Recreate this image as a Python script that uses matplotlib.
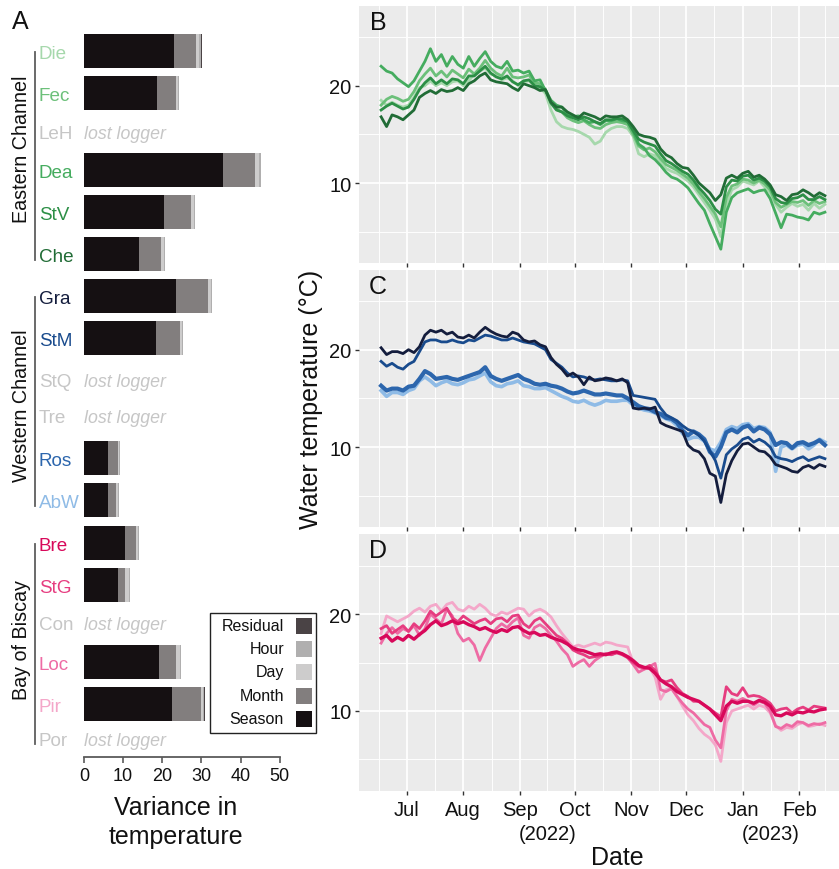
import numpy as np
import matplotlib
matplotlib.use("Agg")
import matplotlib.pyplot as plt
import matplotlib.dates as mdates
from matplotlib.lines import Line2D
from matplotlib.patches import Rectangle
import datetime as dt

plt.rcParams['font.family'] = ['Liberation Sans', 'DejaVu Sans']

# ---------------- data: panel A ----------------
sites = ["Die", "Fec", "LeH", "Dea", "StV", "Che",
         "Gra", "StM", "StQ", "Tre", "Ros", "AbW",
         "Bre", "StG", "Con", "Loc", "Pir", "Por"]
groups = ["Eastern Channel", "Western Channel", "Bay of Biscay"]
components = ["Season", "Month", "Day", "Hour", "Residual"]
nan = np.nan
season   = [23.0, 18.6, nan, 35.5, 20.5, 14.0, 23.5, 18.4, nan, nan, 6.1, 6.1, 10.5, 8.7, nan, 19.2, 22.5, nan]
month    = [5.6, 4.9, nan, 8.2, 6.9, 5.6, 8.2, 6.1, nan, nan, 2.6, 2.0, 2.8, 1.8, nan, 4.3, 7.4, nan]
day      = [0.85, 0.5, nan, 1.1, 0.75, 0.75, 0.75, 0.55, nan, nan, 0.35, 0.55, 0.55, 1.0, nan, 1.0, 0.5, nan]
hour     = [0.35, 0.25, nan, 0.45, 0.25, 0.3, 0.25, 0.25, nan, nan, 0.15, 0.25, 0.25, 0.3, nan, 0.3, 0.2, nan]
residual = [0.3, 0.05, nan, 0.05, 0.05, 0.05, 0.05, 0.05, nan, nan, 0.05, 0.05, 0.05, 0.05, nan, 0.05, 0.3, nan]

# ---------------- data: time series (every 3 days, 17 Jun 2022 - 15 Feb 2023) ----------------
dates = np.arange(np.datetime64('2022-06-17'), np.datetime64('2023-02-16'), np.timedelta64(3, 'D'))

Die = [18.5, 18.0, 18.3, 18.0, 17.8,
       18.0, 18.8, 19.8, 20.0, 20.5, 20.0, 20.3, 20.0, 20.4, 20.5,
       20.0, 20.5, 21.2, 21.5, 21.8, 21.2, 21.0, 20.6, 20.8, 20.5, 20.0,
       20.4, 20.5, 20.0, 19.8, 19.2, 17.5, 16.3, 15.8, 15.6, 15.5,
       15.3, 15.0, 14.7, 14.0, 14.3, 15.2, 15.6, 15.8, 15.8, 15.6,
       14.8, 13.0, 12.7, 13.0, 12.8, 12.2, 11.5, 11.2, 11.0, 10.6,
       10.2, 9.6, 8.8, 8.0, 7.2, 6.3, 4.5, 7.8, 9.3, 9.6,
       10.2, 10.0, 9.8, 10.2, 9.6, 9.0, 7.8, 7.0, 7.5, 7.9, 7.6,
       7.8, 7.2, 7.9, 7.4, 7.8]
Fec = [18.0, 18.6, 18.9, 18.7, 18.4,
       18.6, 19.4, 20.5, 21.2, 21.8, 21.0, 21.5, 20.9, 21.6, 21.2,
       20.8, 21.7, 21.2, 21.8, 22.6, 21.8, 21.3, 21.0, 21.8, 20.9, 20.8,
       20.9, 21.1, 20.3, 20.2, 19.6, 18.4, 17.6, 17.3, 16.7, 16.4,
       16.2, 16.4, 16.0, 15.7, 15.6, 16.0, 16.2, 16.3, 16.2, 16.0,
       15.0, 13.8, 13.4, 13.6, 13.2, 12.5, 11.9, 11.6, 11.3, 10.9,
       10.5, 9.9, 9.1, 8.4, 7.6, 6.8, 5.5, 8.5, 9.7, 9.9,
       10.4, 10.3, 10.0, 10.3, 9.9, 9.3, 8.0, 7.5, 7.8, 8.1, 8.0,
       8.2, 7.7, 8.2, 7.9, 8.1]
Dea = [22.0, 21.5, 21.3, 20.7, 20.3,
       19.9, 20.5, 21.5, 22.5, 23.8, 22.5, 23.2, 22.0, 23.0, 22.2,
       21.8, 23.0, 22.0, 22.8, 23.5, 22.5, 22.0, 21.8, 22.5, 21.5, 21.6,
       21.3, 21.5, 20.5, 20.6, 19.5, 18.5, 18.0, 17.8, 17.0, 16.8,
       16.9, 16.5, 16.2, 16.3, 16.0, 16.4, 16.4, 16.6, 16.4, 16.3,
       15.3, 14.0, 13.6, 12.8, 12.4, 11.8, 11.1, 10.6, 10.4, 10.0,
       9.5, 8.7, 7.9, 7.2, 5.8, 4.5, 3.2, 7.0, 8.5, 9.0,
       9.2, 9.4, 9.0, 9.2, 9.3, 8.4, 6.9, 5.4, 6.8, 6.7, 6.5,
       6.4, 6.2, 7.0, 6.8, 7.0]
StV = [17.5, 17.9, 18.2, 17.9, 17.6,
       17.8, 18.6, 19.6, 20.3, 20.8, 20.2, 20.6, 20.2, 20.7, 20.6,
       20.2, 21.0, 21.0, 21.5, 22.0, 21.3, 20.9, 20.7, 21.0, 20.4, 20.1,
       20.5, 20.6, 20.0, 19.9, 19.5, 18.2, 17.5, 17.3, 16.9, 16.7,
       16.5, 16.8, 16.6, 16.3, 16.1, 16.5, 16.5, 16.6, 16.6, 16.3,
       15.4, 14.5, 14.2, 14.0, 13.8, 13.0, 12.3, 12.0, 11.6, 11.2,
       10.9, 10.3, 9.5, 8.9, 8.2, 7.3, 6.8, 9.6, 10.3, 10.2,
       10.7, 10.8, 10.3, 10.5, 10.2, 9.6, 8.4, 8.0, 7.9, 8.4, 8.5,
       8.8, 8.3, 8.3, 8.6, 8.3]
Che = [16.8, 15.8, 17.0, 16.8, 16.5,
       17.0, 17.5, 18.8, 19.2, 19.5, 19.2, 19.6, 19.4, 19.5, 19.8,
       19.5, 20.2, 20.5, 21.0, 21.3, 20.6, 20.4, 20.3, 20.2, 19.8, 19.5,
       20.2, 20.0, 19.8, 19.5, 19.6, 18.3, 17.8, 17.8, 17.3, 17.0,
       16.7, 17.2, 17.0, 16.8, 16.5, 16.9, 16.8, 16.8, 16.9, 16.5,
       15.8, 15.0, 14.8, 14.7, 14.5, 13.5, 12.9, 12.6, 12.0, 11.6,
       11.5, 10.8, 10.0, 9.5, 9.0, 8.2, 8.8, 10.5, 10.8, 10.5,
       11.0, 11.2, 10.6, 10.8, 10.4, 9.8, 8.8, 8.6, 8.2, 8.8, 8.9,
       9.3, 9.0, 8.6, 9.0, 8.7]

Gra = [20.2, 19.5, 19.8, 19.8, 19.6,
       20.0, 19.7, 20.3, 21.5, 22.0, 21.8, 22.0, 21.6, 21.8, 21.3,
       21.2, 21.5, 21.2, 21.8, 22.3, 21.9, 21.6, 21.4, 21.3, 21.8, 21.6,
       21.0, 20.8, 20.9, 20.5, 20.3, 19.2, 18.5, 18.0, 17.3, 17.6,
       17.2, 16.4, 17.2, 16.8, 16.9, 17.1, 17.0, 16.8, 17.0, 16.6,
       14.0, 13.9, 14.0, 13.9, 14.1, 12.5, 12.2, 12.0, 11.8, 11.6,
       10.2, 9.7, 9.5, 8.8, 7.3, 7.0, 4.3, 7.2, 8.6, 9.6,
       10.3, 10.4, 10.0, 9.6, 9.5, 9.0, 8.2, 8.0, 7.8, 7.5, 7.4,
       7.9, 8.1, 7.8, 8.2, 8.0]
StM = [18.8, 18.3, 18.6, 18.2, 18.0,
       18.5, 18.8, 19.8, 20.8, 21.0, 21.0, 20.8, 20.8, 21.0, 20.8,
       20.7, 21.0, 20.9, 21.2, 21.5, 21.4, 21.2, 21.0, 21.0, 21.2, 21.0,
       20.8, 20.7, 20.6, 20.3, 20.0, 19.0, 18.6, 18.2, 17.6, 17.2,
       17.3, 17.2, 17.0, 16.9, 17.0, 16.9, 16.8, 16.8, 16.9, 16.8,
       15.3, 15.2, 15.1, 15.0, 14.9, 14.0, 13.3, 13.0, 12.7, 12.2,
       11.8, 11.6, 11.2, 10.6, 9.6, 8.6, 6.8, 9.2, 9.8, 10.2,
       10.8, 11.0, 10.5, 10.8, 10.5, 10.0, 9.0, 8.8, 8.7, 8.5, 8.8,
       9.0, 8.6, 8.8, 9.0, 8.8]
Ros = [16.3, 15.8, 16.0, 16.0, 15.8,
       16.2, 16.3, 17.0, 17.8, 17.5, 17.0, 17.1, 17.2, 17.0, 16.9,
       17.1, 17.3, 17.5, 17.7, 18.2, 17.3, 17.0, 16.8, 17.0, 17.2, 17.4,
       17.0, 16.8, 16.5, 16.4, 16.5, 16.3, 16.2, 16.0, 15.7, 15.5,
       15.6, 15.8, 15.6, 15.4, 15.4, 15.5, 15.4, 15.3, 15.3, 15.0,
       14.6, 14.2, 14.0, 13.9, 13.6, 13.4, 13.0, 12.9, 12.5, 11.7,
       11.2, 11.6, 11.3, 10.8, 9.5, 9.0, 10.0, 11.5, 11.8, 11.5,
       12.0, 12.2, 11.6, 12.0, 11.8, 11.3, 10.2, 10.5, 10.4, 9.9, 10.4,
       10.5, 10.2, 10.4, 10.7, 10.2]
AbW = [15.8, 15.2, 15.6, 15.6, 15.4,
       15.8, 16.0, 16.8, 17.2, 16.8, 16.3, 16.6, 16.8, 16.5, 16.4,
       16.6, 16.9, 17.0, 17.3, 17.6, 16.7, 16.3, 16.2, 16.5, 16.6, 16.8,
       16.3, 16.2, 16.0, 16.0, 16.1, 15.8, 15.5, 15.2, 15.0, 14.7,
       14.6, 14.8, 14.5, 14.3, 14.5, 14.8, 14.7, 14.7, 14.8, 14.8,
       14.3, 14.0, 13.8, 13.7, 13.5, 13.2, 12.9, 12.7, 12.2, 11.4,
       10.8, 11.0, 11.0, 10.6, 9.8, 9.6, 10.5, 11.8, 12.1, 11.9,
       12.3, 12.4, 11.9, 12.1, 12.0, 11.5, 7.5, 10.0, 10.2, 9.8, 10.2,
       10.3, 9.8, 10.2, 10.8, 10.5]

Bre = [17.5, 17.8, 17.2, 17.6, 17.3,
       17.8, 17.4, 17.9, 18.3, 18.9, 19.3, 18.8, 19.0, 19.3, 19.0,
       19.2, 18.9, 18.7, 18.4, 18.6, 18.3, 18.1, 18.4, 18.2, 18.6, 18.7,
       18.3, 18.0, 18.1, 17.8, 17.9, 17.6, 17.4, 17.2, 16.9, 16.5,
       16.3, 16.2, 16.0, 15.8, 15.9, 15.8, 16.0, 16.1, 15.9, 15.6,
       15.2, 14.7, 14.5, 14.4, 13.9, 13.2, 12.8, 12.5, 12.0, 11.7,
       11.4, 11.2, 11.0, 10.6, 10.2, 9.6, 9.0, 10.5, 11.0, 10.8,
       11.0, 11.0, 10.8, 11.1, 10.9, 10.5, 9.6, 9.5, 9.8, 9.6, 9.9,
       9.8, 10.0, 9.9, 10.1, 10.2]
StG = [18.5, 18.8, 18.0, 18.4, 18.8,
       18.2, 19.0, 18.5, 19.3, 20.3, 19.8, 20.2, 20.6, 19.6, 19.2,
       19.8, 19.4, 19.0, 19.3, 19.5, 19.0, 19.5, 19.6, 19.2, 19.8, 19.9,
       19.0, 18.6, 19.3, 19.6, 19.0, 18.4, 17.8, 17.5, 17.0, 16.3,
       16.0, 15.8, 15.5, 15.6, 15.7, 15.9, 15.8, 16.0, 15.8, 15.5,
       15.0, 14.6, 14.4, 14.7, 14.2, 13.2, 13.0, 13.2, 12.4, 11.8,
       11.5, 11.0, 11.0, 10.6, 10.2, 9.8, 9.4, 12.5, 11.8, 11.6,
       12.4, 11.5, 11.6, 11.5, 11.2, 10.8, 10.0, 10.2, 10.3, 9.8, 10.2,
       10.4, 10.1, 10.5, 10.4, 10.3]
Loc = [17.0, 18.0, 18.6, 18.0, 18.5,
       18.2, 18.8, 17.8, 18.5, 20.0, 19.5, 19.0, 20.5, 19.8, 18.0,
       17.2, 17.5, 16.8, 15.2, 16.5, 17.5, 18.5, 19.0, 18.6, 19.2, 19.6,
       17.8, 17.5, 18.6, 18.9, 18.5, 17.8, 17.2, 16.4, 15.8, 14.6,
       15.0, 15.3, 14.6, 15.2, 15.6, 15.9, 15.8, 16.0, 15.9, 15.5,
       14.8, 14.0, 14.3, 14.6, 14.9, 12.2, 12.0, 12.3, 11.5, 10.8,
       10.2, 9.8, 9.2, 8.6, 8.3, 7.0, 6.2, 10.0, 11.2, 11.0,
       11.3, 11.0, 10.6, 11.0, 10.8, 10.0, 8.4, 8.2, 8.6, 8.4, 8.9,
       8.8, 8.5, 8.7, 8.6, 8.8]
Pir = [18.0, 19.8, 19.5, 19.2, 19.5,
       19.8, 20.3, 20.6, 20.2, 20.8, 21.0, 20.3, 21.0, 21.2, 20.5,
       20.3, 20.8, 20.5, 21.0, 20.6, 20.0, 19.8, 20.2, 20.0, 20.3, 20.6,
       20.5, 19.8, 20.3, 20.5, 20.2, 19.7, 18.8, 18.0, 17.3, 16.6,
       16.8, 16.6, 16.8, 17.0, 16.8, 17.1, 17.0, 16.8, 16.7, 16.6,
       15.0, 14.5, 14.3, 14.5, 13.5, 11.2, 12.2, 12.4, 11.5, 10.5,
       9.6, 9.0, 8.2, 7.6, 7.2, 6.5, 4.8, 8.8, 10.0, 10.2,
       10.4, 10.6, 10.2, 10.6, 10.4, 9.8, 8.5, 8.0, 8.3, 8.2, 8.6,
       8.8, 8.4, 8.5, 8.7, 8.5]

panel_B = {"Die": Die, "Fec": Fec, "Dea": Dea, "StV": StV, "Che": Che}
panel_C = {"AbW": AbW, "Ros": Ros, "StM": StM, "Gra": Gra}
panel_D = {"Pir": Pir, "Loc": Loc, "StG": StG, "Bre": Bre}

# ---------------- styles ----------------
site_colors = {"Die": "#a6d8ac", "Fec": "#6cc07a", "Dea": "#45ac5f", "StV": "#2c8f46", "Che": "#216c36",
               "Gra": "#141d3d", "StM": "#194b8d", "Ros": "#2c66ad", "AbW": "#8fbbe6",
               "Bre": "#d8085a", "StG": "#e63d80", "Loc": "#ee6ba4", "Pir": "#f4a7c9"}
line_widths = {"Ros": 3.0, "AbW": 2.6, "Bre": 2.4}
lost_color = "#c6c6c6"
comp_colors = {"Season": "#151012", "Month": "#827e7e", "Day": "#cdcccc",
               "Hour": "#b0afaf", "Residual": "#4a4345"}

W, H = 839, 870
fig = plt.figure(figsize=(W / 100, H / 100), dpi=100)


def rect(x0, y0, x1, y1):
    return [x0 / W, 1 - y1 / H, (x1 - x0) / W, (y1 - y0) / H]


def ftext(px, py, s, **kw):
    return fig.text(px / W, 1 - py / H, s, **kw)


def fline(x0, y0, x1, y1, **kw):
    fig.add_artist(Line2D([x0 / W, x1 / W], [1 - y0 / H, 1 - y1 / H], **kw))


# ---------------- panel A ----------------
row_y = [52, 94, 132, 171, 213, 255, 297, 339, 380, 416, 459, 501, 544, 586, 623, 663, 705, 739]
group_rows = [(0, 5), (6, 11), (12, 17)]
group_text_y = [149, 406, 640]

axA = fig.add_axes(rect(84, 0, 279.7, 758.3))
axA.set_xlim(0, 50)
axA.set_ylim(758.3, 0)
comp_vals = {"Season": season, "Month": month, "Day": day, "Hour": hour, "Residual": residual}
left = np.zeros(len(sites))
for comp in components:
    vals = np.array(comp_vals[comp], dtype=float)
    ok = ~np.isnan(vals)
    axA.barh(np.array(row_y)[ok], vals[ok], left=left[ok], height=33.7,
             color=comp_colors[comp], linewidth=0)
    left = left + np.nan_to_num(vals)

for s in ["top", "right", "left"]:
    axA.spines[s].set_visible(False)
axA.spines["bottom"].set_color("#5a5a5a")
axA.spines["bottom"].set_linewidth(1.3)
axA.set_yticks([])
axA.set_xticks([0, 10, 20, 30, 40, 50])
axA.tick_params(axis="x", length=4, width=1.2, color="#5a5a5a", labelsize=13,
                labelcolor="#111111", pad=3)
axA.patch.set_alpha(0)

for i, s in enumerate(sites):
    lost = np.isnan(season[i])
    ftext(39, row_y[i] + 6.8, s, ha="left", va="baseline", fontsize=13.6,
          color=lost_color if lost else site_colors[s])
    if lost:
        ftext(84, row_y[i] + 6.8, "lost logger", ha="left", va="baseline", fontsize=12.8,
              style="italic", color=lost_color)

for (a, b), g, ty in zip(group_rows, groups, group_text_y):
    fline(35, row_y[a] + 0.5, 35, row_y[b] + 6, color="#5e5e5e", lw=1.3)
    ftext(22, ty, g, rotation=90, ha="center", va="center", fontsize=14.2, color="#111111")

ftext(20, 22, "A", ha="center", va="center", fontsize=18, color="#111111")
ftext(176, 808, "Variance in", ha="center", va="center", fontsize=18, color="#111111")
ftext(176, 837, "temperature", ha="center", va="center", fontsize=18, color="#111111")

# legend (drawn by hand to match layout)
fig.add_artist(Rectangle((210 / W, 1 - 734 / H), 106 / W, 120 / H, transform=fig.transFigure,
                         facecolor="white", edgecolor="#222222", lw=1.0))
leg_rows = [626.7, 649.5, 673, 696.7, 720]
for comp, yy in zip(components[::-1], leg_rows):
    fig.add_artist(Rectangle((296 / W, 1 - (yy + 8) / H), 16 / W, 16 / H, transform=fig.transFigure,
                             facecolor=comp_colors[comp], edgecolor="none"))
    ftext(284, yy, comp, ha="right", va="center", fontsize=11.5, color="#111111")

# ---------------- panels B, C, D ----------------
jul1 = mdates.date2num(dt.datetime(2022, 7, 1))
xlim = (jul1 - 26.1, jul1 + 236.7)
month_starts = [dt.datetime(2022, m, 1) for m in range(6, 13)] + [dt.datetime(2023, m, 1) for m in (1, 2, 3)]
ms_num = mdates.date2num(month_starts)   # Jun .. Mar
major = ms_num[1:-1]
minor = (ms_num[:-1] + ms_num[1:]) / 2
month_labels = ["Jul", "Aug", "Sep", "Oct", "Nov", "Dec", "Jan", "Feb"]
xnum = mdates.date2num(dates.astype("datetime64[s]").astype(dt.datetime))

panels = [("B", panel_B, 6.7, 264.0), ("C", panel_C, 270.7, 528.0), ("D", panel_D, 535.3, 791.7)]
for letter, series, top, bot in panels:
    ax = fig.add_axes(rect(359, top, 839, bot))
    ax.set_facecolor("#ebebeb")
    for s in ax.spines.values():
        s.set_visible(False)
    ax.set_xlim(*xlim)
    ax.set_ylim(1.78, 28.22)
    ax.set_xticks(major)
    ax.set_xticks(minor, minor=True)
    ax.set_yticks([10, 20])
    ax.set_yticks([5, 15, 25], minor=True)
    ax.grid(which="major", color="white", lw=1.25)
    ax.grid(which="minor", color="white", lw=0.65)
    ax.set_axisbelow(True)
    ax.tick_params(which="major", length=3, width=1.0, color="#333333", labelsize=14.5,
                   labelcolor="#111111", pad=2.5)
    ax.tick_params(which="minor", length=0)
    ax.set_yticklabels(["10", "20"])
    if letter == "D":
        ax.set_xticklabels(month_labels)
        ax.tick_params(axis="x", pad=4)
        for lab, xm in (("(2022)", (ms_num[3] + ms_num[4]) / 2), ("(2023)", (ms_num[7] + ms_num[8]) / 2)):
            px = 359 + (xm - xlim[0]) / (xlim[1] - xlim[0]) * 480
            ftext(px, 835, lab, ha="center", va="center", fontsize=14.5, color="#111111")
    else:
        ax.set_xticklabels([])
    for name, vals in series.items():
        ax.plot(xnum, vals, color=site_colors[name], lw=line_widths.get(name, 2.0),
                solid_joinstyle="round")
    ftext(378, top + 16, letter, ha="center", va="center", fontsize=18, color="#111111")

ftext(311, 399.3, "Water temperature (°C)", rotation=90, ha="center", va="center",
      fontsize=18, color="#111111")
ftext(617, 858, "Date", ha="center", va="center", fontsize=18, color="#111111")

fig.savefig("out.png", dpi=100)
